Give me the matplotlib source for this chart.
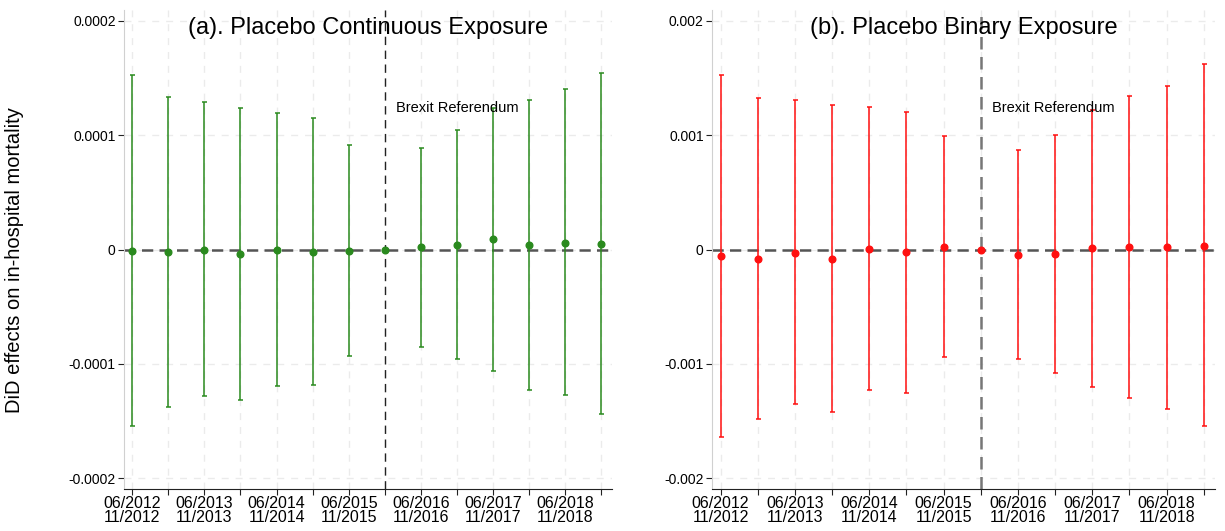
import matplotlib
matplotlib.use("Agg")
import matplotlib.pyplot as plt
import numpy as np

plt.rcParams['font.family'] = ['Liberation Sans', 'DejaVu Sans']

# periods (half years), labels on every second one
periods = list(range(14))
tick_labels = ['06/2012\n11/2012', '06/2013\n11/2013', '06/2014\n11/2014', '06/2015\n11/2015',
               '06/2016\n11/2016', '06/2017\n11/2017', '06/2018\n11/2018']
ref_period = 7  # Brexit referendum, normalised to 0

# (a) continuous exposure
cont_est = [-1e-6, -2e-6, 0.0, -4e-6, 0.0, -2e-6, -1e-6, 0.0, 2e-6, 4e-6, 9.6e-6, 4e-6, 6e-6, 5e-6]
cont_hi = [1.525e-4, 1.335e-4, 1.289e-4, 1.236e-4, 1.19e-4, 1.146e-4, 0.912e-4, None,
           0.892e-4, 1.046e-4, 1.24e-4, 1.312e-4, 1.405e-4, 1.545e-4]
cont_lo = [-1.54e-4, -1.375e-4, -1.284e-4, -1.316e-4, -1.19e-4, -1.184e-4, -0.93e-4, None,
           -0.853e-4, -0.958e-4, -1.06e-4, -1.229e-4, -1.273e-4, -1.441e-4]

# (b) binary exposure
bin_est = [-0.059e-3, -0.082e-3, -0.03e-3, -0.082e-3, 0.003e-3, -0.026e-3, 0.02e-3, 0.0,
           -0.05e-3, -0.041e-3, 0.011e-3, 0.02e-3, 0.02e-3, 0.032e-3]
bin_hi = [1.525e-3, 1.327e-3, 1.306e-3, 1.26e-3, 1.245e-3, 1.204e-3, 0.989e-3, None,
          0.866e-3, 1.0e-3, 1.22e-3, 1.344e-3, 1.429e-3, 1.619e-3]
bin_lo = [-1.642e-3, -1.487e-3, -1.353e-3, -1.42e-3, -1.231e-3, -1.254e-3, -0.939e-3, None,
          -0.959e-3, -1.084e-3, -1.207e-3, -1.298e-3, -1.397e-3, -1.543e-3]

fig = plt.figure(figsize=(12.25, 5.31), dpi=100)
ax1 = fig.add_axes([124/1225, 1-489/531, (612-124)/1225, (489-10)/531])
ax2 = fig.add_axes([712/1225, 1-489/531, (1215-712)/1225, (489-10)/531])


def panel(ax, est, lo, hi, color, title, yticks, ylabels, ylim, text_y, vline_style):
    x = np.array(periods)
    ax.set_xlim(-0.23, 13.3)
    ax.set_ylim(-ylim, ylim)
    ax.set_yticks(yticks)
    ax.set_yticklabels(ylabels, fontsize=10)
    ax.set_xticks(periods)
    ax.set_xticklabels([tick_labels[i // 2] if i % 2 == 0 else '' for i in periods],
                       fontsize=11.5, linespacing=0.9)
    ax.grid(True, color='#ebebeb', linestyle=(0, (5, 5)), linewidth=1)
    ax.set_axisbelow(True)
    for s in ['top', 'right']:
        ax.spines[s].set_visible(False)
    ax.spines['left'].set_color('#d0d0d0')
    ax.spines['bottom'].set_color('#222222')
    ax.tick_params(axis='x', length=4, color='#222222', pad=1)
    ax.tick_params(axis='y', length=4, color='#222222', pad=2)

    ax.axhline(0, color='#555555', linestyle=(0, (4.5, 2.5)), linewidth=1.8, zorder=2)
    ax.axvline(ref_period, zorder=2, **vline_style)

    for i in periods:
        if hi[i] is not None:
            ax.errorbar(x[i], est[i], yerr=[[est[i] - lo[i]], [hi[i] - est[i]]],
                        fmt='none', ecolor=color, elinewidth=1.1, capsize=1.8,
                        capthick=1.1, zorder=3)
    ax.plot(x, est, 'o', color=color, markersize=4.8, zorder=4)
    ax.text(ref_period + 0.3, text_y, 'Brexit Referendum', fontsize=10.5, va='center', ha='left')
    ax.text(0.5, 0.985, title, transform=ax.transAxes, ha='center', va='top', fontsize=17)


panel(ax1, cont_est, cont_lo, cont_hi, '#2a8a1e', '(a). Placebo Continuous Exposure',
      [-0.0002, -0.0001, 0, 0.0001, 0.0002], ['-0.0002', '-0.0001', '0', '0.0001', '0.0002'],
      2.095e-4, 1.24e-4, dict(color='#222222', linestyle=(0, (6, 4)), linewidth=1.0))
panel(ax2, bin_est, bin_lo, bin_hi, '#ff1010', '(b). Placebo Binary Exposure',
      [-0.002, -0.001, 0, 0.001, 0.002], ['-0.002', '-0.001', '0', '0.001', '0.002'],
      2.095e-3, 1.24e-3, dict(color='#777777', linestyle=(0, (5, 3)), linewidth=1.8))

fig.text(15/1225, 1-260/531, 'DiD effects on in-hospital mortality', rotation=90,
         ha='center', va='center', fontsize=14.5)

fig.savefig('out.png', dpi=100)
